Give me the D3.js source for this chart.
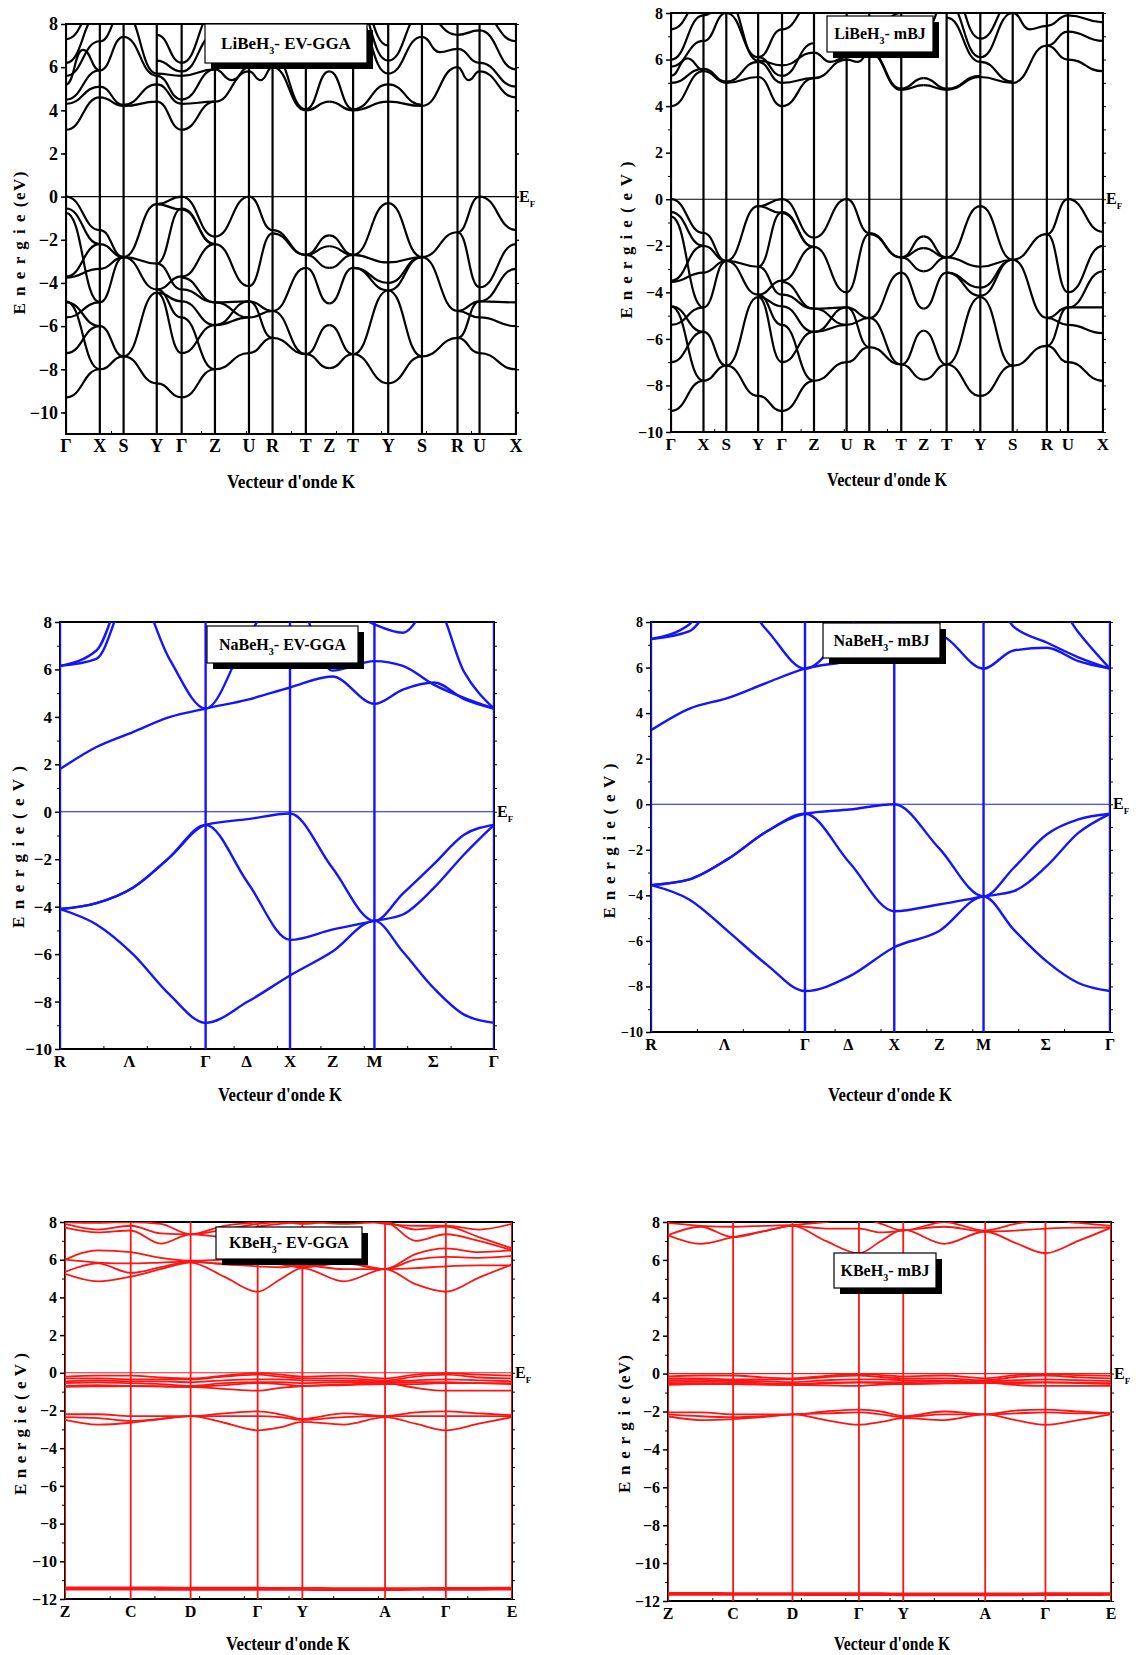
<!DOCTYPE html>
<html>
<head>
<meta charset="utf-8">
<script src="https://cdn.jsdelivr.net/npm/d3@7"></script>
<style>
  body { margin: 0; background: #fff; }
  svg { display: block; }
  text { font-family: "Liberation Serif", "Times New Roman", serif; font-weight: bold; }
</style>
</head>
<body>
<div id="chart"></div>
<script>
const width = 1136;
const height = 1655;

// ---------- LiBeH3 (orthorhombic path) ----------
const liLabels = ["Γ", "X", "S", "Y", "Γ", "Z", "U", "R", "T", "Z", "T", "Y", "S", "R", "U", "X"];
const liLabelPos = [0, 0.0752, 0.128, 0.2017, 0.257, 0.331, 0.4066, 0.459, 0.533, 0.585, 0.638, 0.716, 0.791, 0.870, 0.919, 1];
const liKLines = [0, 0.0752, 0.128, 0.2017, 0.257, 0.331, 0.4066, 0.459, 0.533, 0.638, 0.716, 0.791, 0.870, 0.919, 1];

// one entry per segment between consecutive labels; each line is [start, end] or [start, extremum at middle, end]
const liGgaValence = [
  [[0, -1.55], [-0.55, -2.2], [-0.75, -4.9], [-3.7, -2.2], [-3.75, -3.35], [-4.85, -8.0], [-5.6, -4.9], [-7.25, -6.0], [-9.3, -8.0], [-4.9, -6.0]],
  [[-1.55, -2.8], [-2.2, -2.8], [-3.35, -2.8], [-4.9, -2.8], [-6.0, -7.4], [-8.0, -7.4]],
  [[-2.8, -0.35], [-2.8, -3.1], [-2.8, -4.3], [-7.4, -4.45], [-7.4, -8.65]],
  [[-0.35, 0], [-0.35, -0.6], [-3.1, -0.55], [-3.1, -4.3], [-4.3, -3.7], [-4.45, -4.85], [-4.3, -5.6], [-4.45, -7.25], [-8.65, -9.3]],
  [[0, -1.85], [-0.55, -2.2], [-0.6, -2.2], [-3.7, -2.2], [-3.75, -4.9], [-4.3, -4.9], [-4.85, -5.95], [-5.6, -8.0], [-7.25, -5.95], [-9.3, -8.0]],
  [[-1.85, 0], [-2.2, -4.15], [-4.9, -4.85], [-4.9, -5.6], [-5.95, -5.6], [-5.95, -4.85], [-8.0, -7.25]],
  [[0, -1.55], [-4.15, -1.7], [-4.85, -5.3], [-5.6, -5.3], [-4.85, -6.55], [-7.25, -6.55]],
  [[-1.55, -2.7], [-1.7, -2.7], [-5.3, -3.3], [-5.3, -7.3], [-6.55, -7.3]],
  [[-2.7, -1.8], [-2.7, -2.3], [-2.7, -3.3], [-3.3, -4.95], [-7.3, -5.95], [-7.3, -7.95]],
  [[-1.8, -2.7], [-2.3, -2.7], [-3.3, -2.7], [-4.95, -3.3], [-5.95, -7.3], [-7.95, -7.3]],
  [[-2.7, -0.3], [-2.7, -3.05], [-3.3, -4.0], [-3.3, -4.35], [-7.3, -4.35], [-7.3, -8.65]],
  [[-0.3, -2.8], [-3.05, -2.8], [-4.0, -2.8], [-4.35, -2.8], [-4.35, -7.4], [-8.65, -7.4]],
  [[-2.8, -1.65], [-2.8, -5.3], [-7.4, -6.55]],
  [[-1.65, 0], [-1.65, -4.2], [-5.3, -4.85], [-5.3, -5.6], [-6.55, -4.85], [-6.55, -7.25]],
  [[0, -1.55], [-4.2, -2.2], [-4.85, -3.35], [-4.85, -4.9], [-5.6, -6.0], [-7.25, -8.0]]
];
const liGgaConduction = [
  [[3.1, 4.6], [4.3, 5.1], [4.5, 5.85], [5.2, 6.8, 5.85], [5.6, 7.2], [6.2, 8.5], [7.3, 9.0]],
  [[4.6, 4.2], [5.1, 4.25], [5.85, 7.4], [7.2, 8.6]],
  [[4.2, 4.4], [4.25, 5.2], [7.4, 5.6], [8.6, 5.7]],
  [[4.4, 3.1], [5.2, 4.3], [5.6, 4.5], [5.7, 5.6], [6.3, 5.8], [7.5, 6.2]],
  [[3.1, 4.4], [4.3, 4.4], [4.5, 5.9], [5.6, 5.9], [5.8, 7.5], [6.2, 8.6]],
  [[4.4, 5.8], [5.9, 5.4, 6.0], [5.9, 7.5]],
  [[5.8, 5.4, 6.0], [6.0, 6.6], [7.5, 8.5]],
  [[6.0, 4.0], [6.6, 4.05], [8.5, 6.5]],
  [[4.0, 4.4], [4.05, 5.8], [6.5, 7.5]],
  [[4.4, 4.0], [5.8, 4.05], [7.5, 8.6]],
  [[4.0, 4.4], [4.05, 5.2], [8.6, 5.7], [9.2, 6.3], [9.8, 7.0]],
  [[4.4, 4.2], [5.2, 4.25], [5.7, 7.4], [6.3, 8.5]],
  [[4.2, 6.0], [7.4, 6.7, 6.85], [8.5, 7.5]],
  [[6.0, 5.4, 5.8], [6.85, 6.2], [7.5, 7.7]],
  [[5.8, 4.6], [6.2, 5.1], [7.7, 5.9], [8.5, 7.2]]
];

const liMbjValence = [
  [[0, -1.45], [-0.55, -2.0], [-0.75, -4.65], [-3.5, -2.0], [-3.55, -3.15], [-4.6, -7.8], [-5.4, -4.65], [-7.0, -5.7], [-9.1, -7.8], [-4.6, -5.7]],
  [[-1.45, -2.65], [-2.0, -2.65], [-3.15, -2.65], [-4.65, -2.65], [-5.7, -7.15], [-7.8, -7.15]],
  [[-2.65, -0.3], [-2.65, -2.9], [-2.65, -4.1], [-7.15, -4.2], [-7.15, -8.45]],
  [[-0.3, 0], [-0.3, -0.6], [-2.9, -0.55], [-2.9, -4.1], [-4.1, -3.5], [-4.2, -4.6], [-4.1, -5.4], [-4.2, -7.0], [-8.45, -9.1]],
  [[0, -1.65], [-0.55, -2.05], [-0.6, -2.05], [-3.5, -2.05], [-3.55, -4.7], [-4.1, -4.7], [-4.6, -5.7], [-5.4, -7.8], [-7.0, -5.7], [-9.1, -7.8]],
  [[-1.65, 0], [-2.05, -4.0], [-4.7, -4.65], [-4.7, -5.4], [-5.7, -5.4], [-5.7, -4.65], [-7.8, -7.0]],
  [[0, -1.45], [-4.0, -1.5], [-4.65, -5.1], [-5.4, -5.1], [-4.65, -6.35], [-7.0, -6.35]],
  [[-1.45, -2.5], [-1.5, -2.5], [-5.1, -3.15], [-5.1, -7.1], [-6.35, -7.1]],
  [[-2.5, -1.6], [-2.5, -2.1], [-2.5, -3.1], [-3.15, -4.7], [-7.1, -5.65], [-7.1, -7.75]],
  [[-1.6, -2.5], [-2.1, -2.5], [-3.1, -2.5], [-4.7, -3.15], [-5.65, -7.1], [-7.75, -7.1]],
  [[-2.5, -0.3], [-2.5, -2.9], [-3.15, -3.8], [-3.15, -4.15], [-7.1, -4.2], [-7.1, -8.45]],
  [[-0.3, -2.6], [-2.9, -2.6], [-3.8, -2.6], [-4.15, -2.6], [-4.2, -7.15], [-8.45, -7.15]],
  [[-2.6, -1.5], [-2.6, -5.1], [-7.15, -6.3]],
  [[-1.5, 0], [-1.5, -4.0], [-5.1, -4.65], [-5.1, -5.4], [-6.3, -4.65], [-6.3, -7.0]],
  [[0, -1.4], [-4.0, -2.0], [-4.65, -3.1], [-4.65, -4.65], [-5.4, -5.75], [-7.0, -7.8]]
];
const liMbjConduction = [
  [[4.0, 5.5], [5.0, 5.6], [5.3, 6.05, 5.55], [5.7, 6.8], [6.0, 7.9], [7.3, 8.6]],
  [[5.5, 5.0], [5.6, 5.05], [6.8, 8.0], [7.9, 8.5]],
  [[5.0, 5.25], [5.05, 5.9], [8.0, 6.1], [8.6, 5.95]],
  [[5.25, 4.0], [5.9, 5.0], [6.1, 5.3], [5.95, 5.75], [6.1, 7.3]],
  [[4.0, 5.2], [5.0, 5.2], [5.3, 6.7], [5.75, 6.3], [7.3, 8.5]],
  [[5.2, 6.0], [6.3, 5.9, 6.1]],
  [[6.0, 5.9, 6.3], [6.1, 7.0]],
  [[6.3, 4.7], [6.35, 4.75], [7.0, 8.0]],
  [[4.7, 4.9], [4.75, 5.2]],
  [[4.9, 4.7], [5.2, 4.75], [7.2, 8.5]],
  [[4.7, 5.25], [4.75, 5.3], [7.8, 5.9], [8.5, 6.1], [9.5, 6.9]],
  [[5.25, 5.0], [5.9, 5.05], [6.1, 8.0], [6.9, 8.5]],
  [[5.0, 6.6], [8.0, 7.3, 7.45]],
  [[6.6, 6.0], [6.6, 7.2], [7.45, 7.9]],
  [[6.0, 5.5], [7.2, 6.8], [7.9, 7.6]]
];

// ---------- NaBeH3 (cubic path) ----------
const naLabels = ["R", "Λ", "Γ", "Δ", "X", "Z", "M", "Σ", "Γ"];
const naLabelPos = [0, 0.16, 0.3355, 0.43, 0.530, 0.628, 0.7245, 0.86, 1];
const naKLines = [0, 0.3355, 0.530, 0.7245, 1];
const naGrid = [0, 0.084, 0.168, 0.252, 0.3355, 0.433, 0.530, 0.627, 0.7245, 0.79, 0.862, 0.931, 1];

const naGgaBands = [
  [-4.1, -3.85, -3.2, -1.93, -0.55, -0.31, -0.07, -2.35, -4.6, -3.45, -2.2, -0.97, -0.55],
  [-4.1, -3.85, -3.2, -1.93, -0.55, -3.0, -5.4, -4.97, -4.6, -4.33, -3.2, -1.8, -0.55],
  [-4.1, -4.75, -6.0, -7.7, -8.9, -8.0, -6.9, -5.9, -4.6, -5.9, -7.45, -8.55, -8.9],
  [1.8, 2.73, 3.36, 3.99, 4.35, 4.73, 5.24, 5.7, 4.55, 5.15, 5.45, 4.75, 4.35],
  [6.15, 6.45, 9.5, 6.45, 4.35, 7.4, 9.5, 5.95, 6.35, 6.15, 5.35, 4.8, 4.35],
  [6.15, 6.8, 10, 10, 10, 10, 10, 9.0, 7.9, 7.55, 8.8, 5.9, 4.35]
];
const naMbjBands = [
  [-3.55, -3.3, -2.4, -1.2, -0.42, -0.23, 0, -1.92, -4.05, -2.8, -1.33, -0.67, -0.42],
  [-3.55, -3.3, -2.4, -1.2, -0.42, -2.58, -4.7, -4.4, -4.05, -3.82, -2.72, -1.26, -0.42],
  [-3.55, -4.19, -5.58, -7.04, -8.2, -7.55, -6.28, -5.58, -4.05, -5.5, -6.9, -7.85, -8.2],
  [3.25, 4.2, 4.67, 5.33, 5.95, 6.3, 6.9, 7.4, 5.95, 6.75, 6.87, 6.28, 5.95],
  [7.25, 7.6, 9.5, 7.65, 5.95, 7.8, 9.5, 9.5, 9.5, 7.8, 7.1, 6.45, 5.95],
  [7.25, 7.9, 10, 10, 10, 10, 10, 10, 10, 10, 9.5, 7.55, 5.95]
];

// ---------- KBeH3 (monoclinic path) ----------
const kLabels = ["Z", "C", "D", "Γ", "Y", "A", "Γ", "E"];
const kLabelPos = [0, 0.147, 0.281, 0.431, 0.531, 0.716, 0.852, 1];
const kKLines = [0, 0.147, 0.281, 0.431, 0.531, 0.716, 0.852, 1];
const kGrid = [0, 0.0735, 0.147, 0.214, 0.281, 0.356, 0.431, 0.481, 0.531, 0.6235, 0.716, 0.784, 0.852, 0.926, 1];

const kGgaBands = [
  [-0.2, -0.15, -0.15, -0.25, -0.3, -0.15, -0.02, -0.1, -0.2, -0.15, -0.3, -0.1, -0.02, -0.1, -0.15],
  [-0.3, -0.3, -0.35, -0.35, -0.35, -0.2, -0.1, -0.2, -0.3, -0.3, -0.4, -0.2, -0.1, -0.25, -0.3],
  [-0.45, -0.4, -0.45, -0.45, -0.5, -0.4, -0.35, -0.35, -0.4, -0.42, -0.45, -0.4, -0.35, -0.4, -0.45],
  [-0.55, -0.5, -0.55, -0.6, -0.7, -0.55, -0.5, -0.5, -0.55, -0.5, -0.5, -0.5, -0.5, -0.55, -0.6],
  [-0.7, -0.65, -0.7, -0.72, -0.75, -0.85, -0.95, -0.8, -0.7, -0.62, -0.55, -0.8, -0.95, -0.95, -0.95],
  [-0.75, -0.72, -0.7, -0.72, -0.75, -0.65, -0.55, -0.6, -0.7, -0.65, -0.6, -0.6, -0.55, -0.55, -0.55],
  [-2.2, -2.2, -2.3, -2.3, -2.3, -2.15, -2.05, -2.2, -2.45, -2.15, -2.3, -2.1, -2.05, -2.15, -2.25],
  [-2.35, -2.4, -2.55, -2.45, -2.3, -2.3, -2.3, -2.35, -2.5, -2.35, -2.3, -2.3, -2.3, -2.3, -2.3],
  [-2.5, -2.75, -2.65, -2.45, -2.3, -2.65, -3.05, -2.9, -2.6, -2.75, -2.35, -2.7, -3.05, -2.7, -2.35],
  [-11.38, -11.38, -11.39, -11.39, -11.4, -11.4, -11.4, -11.41, -11.41, -11.42, -11.42, -11.42, -11.41, -11.41, -11.4],
  [-11.45, -11.45, -11.46, -11.46, -11.46, -11.47, -11.47, -11.47, -11.48, -11.48, -11.48, -11.48, -11.47, -11.47, -11.46],
  [-11.5, -11.5, -11.5, -11.51, -11.51, -11.52, -11.52, -11.52, -11.52, -11.53, -11.53, -11.52, -11.52, -11.51, -11.5],
  [5.25, 4.85, 5.1, 5.5, 5.85, 5.1, 4.3, 4.95, 5.55, 4.85, 5.5, 4.7, 4.3, 5.05, 5.75],
  [5.35, 5.8, 5.3, 5.6, 5.9, 5.75, 5.65, 5.6, 5.7, 5.5, 5.5, 5.55, 5.65, 5.7, 5.7],
  [6.0, 5.85, 5.8, 5.85, 5.9, 5.8, 5.8, 5.75, 5.6, 5.8, 5.5, 6.0, 6.15, 6.1, 6.2],
  [6.0, 6.5, 6.4, 6.1, 5.95, 6.0, 6.05, 5.95, 5.65, 5.9, 5.5, 6.3, 6.6, 6.4, 6.5],
  [7.7, 7.45, 7.55, 6.85, 7.35, 7.2, 7.75, 7.9, 8.0, 7.9, 8.0, 7.0, 7.35, 7.0, 6.5],
  [7.9, 7.6, 7.8, 7.4, 7.35, 7.6, 7.9, 8.0, 7.9, 8.1, 8.0, 7.6, 7.75, 7.2, 6.6],
  [8.0, 7.95, 8.0, 7.9, 7.35, 7.8, 8.0, 8.2, 8.2, 8.2, 7.9, 7.8, 7.8, 7.6, 7.9]
];
const kMbjBands = [
  [-0.15, -0.1, -0.1, -0.2, -0.25, -0.12, -0.02, -0.08, -0.15, -0.1, -0.25, -0.08, -0.02, -0.08, -0.12],
  [-0.25, -0.25, -0.3, -0.3, -0.3, -0.18, -0.1, -0.18, -0.25, -0.25, -0.35, -0.18, -0.1, -0.2, -0.25],
  [-0.35, -0.33, -0.38, -0.4, -0.45, -0.35, -0.3, -0.3, -0.35, -0.37, -0.4, -0.35, -0.3, -0.35, -0.4],
  [-0.45, -0.42, -0.45, -0.5, -0.55, -0.48, -0.45, -0.45, -0.45, -0.42, -0.45, -0.45, -0.45, -0.48, -0.5],
  [-0.55, -0.5, -0.55, -0.58, -0.6, -0.62, -0.65, -0.58, -0.55, -0.5, -0.48, -0.6, -0.65, -0.65, -0.65],
  [-0.6, -0.55, -0.55, -0.57, -0.6, -0.52, -0.48, -0.5, -0.55, -0.52, -0.5, -0.5, -0.48, -0.5, -0.55],
  [-2.05, -2.05, -2.15, -2.15, -2.15, -2.0, -1.9, -2.0, -2.25, -2.0, -2.15, -1.95, -1.9, -2.0, -2.1],
  [-2.15, -2.25, -2.3, -2.25, -2.15, -2.1, -2.05, -2.15, -2.3, -2.15, -2.15, -2.1, -2.05, -2.1, -2.1],
  [-2.25, -2.45, -2.4, -2.3, -2.15, -2.45, -2.7, -2.55, -2.35, -2.45, -2.15, -2.45, -2.7, -2.45, -2.15],
  [-11.57, -11.57, -11.58, -11.58, -11.58, -11.59, -11.59, -11.59, -11.6, -11.6, -11.6, -11.6, -11.59, -11.59, -11.58],
  [-11.62, -11.62, -11.63, -11.63, -11.63, -11.64, -11.64, -11.64, -11.65, -11.65, -11.65, -11.65, -11.64, -11.64, -11.63],
  [-11.67, -11.67, -11.68, -11.68, -11.68, -11.69, -11.69, -11.69, -11.7, -11.7, -11.7, -11.7, -11.69, -11.69, -11.68],
  [7.3, 6.85, 7.2, 7.5, 7.8, 7.0, 6.35, 7.0, 7.6, 6.85, 7.5, 6.9, 6.35, 7.0, 7.7],
  [7.3, 7.75, 7.2, 7.5, 7.8, 7.65, 7.65, 7.45, 7.55, 7.75, 7.5, 7.55, 7.65, 7.7, 7.7],
  [7.95, 7.8, 7.75, 7.8, 7.85, 8.0, 8.2, 7.9, 7.55, 8.0, 7.55, 7.9, 8.1, 7.95, 7.8]
];

const ticks18 = [8, 6, 4, 2, 0, -2, -4, -6, -8, -10];
const ticks20 = [8, 6, 4, 2, 0, -2, -4, -6, -8, -10, -12];

const svg = d3.select("#chart")
  .append("svg")
  .attr("width", width)
  .attr("height", height);

const bumpLine = d3.line().curve(d3.curveBumpX);
const smoothLine = d3.line().curve(d3.curveMonotoneX);

function drawPanel(p) {
  const x = d3.scaleLinear().domain([0, 1]).range([p.x0, p.x1]);
  const y = d3.scaleLinear().domain(p.yDomain).range([p.yBot, p.yTop]);
  const g = svg.append("g");

  g.append("clipPath").attr("id", "clip" + p.id)
    .append("rect")
    .attr("x", p.x0).attr("y", p.yTop)
    .attr("width", p.x1 - p.x0).attr("height", p.yBot - p.yTop);

  // frame
  g.append("rect")
    .attr("x", p.x0).attr("y", p.yTop)
    .attr("width", p.x1 - p.x0).attr("height", p.yBot - p.yTop)
    .attr("fill", "none").attr("stroke", "#000").attr("stroke-width", 2);

  const plot = g.append("g").attr("clip-path", `url(#clip${p.id})`);

  plot.selectAll("line.kline")
    .data(p.kLines)
    .join("line")
    .attr("x1", d => x(d)).attr("x2", d => x(d))
    .attr("y1", p.yTop).attr("y2", p.yBot)
    .attr("stroke", p.color).attr("stroke-width", p.lw);

  plot.append("line")
    .attr("x1", p.x0).attr("x2", p.x1)
    .attr("y1", y(0)).attr("y2", y(0))
    .attr("stroke", p.color).attr("stroke-width", 1.1);

  let paths = [];
  if (p.segments) {
    p.segments.forEach(segs => {
      segs.forEach((seg, i) => {
        const a = p.labelPos[i], b = p.labelPos[i + 1];
        seg.forEach(l => {
          const pts = l.length === 2
            ? [[a, l[0]], [b, l[1]]]
            : [[a, l[0]], [(a + b) / 2, l[1]], [b, l[2]]];
          paths.push(bumpLine(pts.map(d => [x(d[0]), y(d[1])])));
        });
      });
    });
  } else {
    p.bands.forEach(band => {
      paths.push(smoothLine(band.map((e, i) => [x(p.grid[i]), y(e)])));
    });
  }
  plot.selectAll("path.band")
    .data(paths)
    .join("path")
    .attr("d", d => d)
    .attr("fill", "none")
    .attr("stroke", p.color)
    .attr("stroke-width", p.lw)
    .attr("stroke-linejoin", "round");

  // y axis, major and minor ticks
  const minor = d3.range(p.yDomain[0] + 1, p.yDomain[1], 2);
  const left = g.append("g")
    .attr("transform", `translate(${p.x0},0)`)
    .call(d3.axisLeft(y).tickValues(p.ticks).tickSize(5).tickPadding(3).tickFormat(d3.format("d")));
  left.select(".domain").remove();
  left.selectAll("line").attr("stroke-width", 1.5);
  left.selectAll("text")
    .style("font-family", "'Liberation Serif', serif")
    .style("font-weight", "bold")
    .style("font-size", p.tickFont + "px")
    .attr("fill", "#000");
  g.append("g")
    .attr("transform", `translate(${p.x0},0)`)
    .call(d3.axisLeft(y).tickValues(minor).tickSize(3).tickFormat(""))
    .select(".domain").remove();
  const right = g.append("g")
    .attr("transform", `translate(${p.x1},0)`)
    .call(d3.axisRight(y).tickValues(p.ticks.concat(minor)).tickSize(3).tickFormat(""));
  right.select(".domain").remove();

  // bottom minor ticks
  g.append("g")
    .attr("transform", `translate(0,${p.yBot})`)
    .call(d3.axisTop(x).tickValues(d3.range(0.1, 1, 0.1)).tickSize(3).tickFormat(""))
    .select(".domain").remove();

  // k-point labels
  g.selectAll("text.klabel")
    .data(p.labels)
    .join("text")
    .attr("x", (d, i) => x(p.labelPos[i]))
    .attr("y", p.yBot + 18)
    .attr("text-anchor", "middle")
    .style("font-size", p.labelFont + "px")
    .text(d => d);

  // E_F label
  const ef = g.append("text")
    .attr("x", p.x1 + 3)
    .attr("y", y(0) + 5)
    .style("font-size", "16px");
  ef.append("tspan").text("E");
  ef.append("tspan").attr("dy", 5).style("font-size", "9px").text("F");

  // axis titles
  g.append("text")
    .attr("transform", `translate(${p.yTitleX},${p.yTitleY}) rotate(-90)`)
    .attr("text-anchor", "middle")
    .attr("textLength", p.yTitleLen)
    .attr("lengthAdjust", "spacing")
    .style("font-size", "17px")
    .text(p.yTitle);

  g.append("text")
    .attr("x", p.xTitleX)
    .attr("y", p.xTitleY)
    .attr("text-anchor", "middle")
    .attr("textLength", p.xTitleLen)
    .attr("lengthAdjust", "spacingAndGlyphs")
    .style("font-size", "19px")
    .text("Vecteur d'onde K");

  // compound box with shadow
  const bx = p.box;
  g.append("rect")
    .attr("x", bx[0] + 6).attr("y", bx[1] + 6)
    .attr("width", bx[2]).attr("height", bx[3])
    .attr("fill", "#000");
  g.append("rect")
    .attr("x", bx[0]).attr("y", bx[1])
    .attr("width", bx[2]).attr("height", bx[3])
    .attr("fill", "#fff").attr("stroke", "#000").attr("stroke-width", 1.2);
  const t = g.append("text")
    .attr("x", bx[0] + bx[2] / 2)
    .attr("y", bx[1] + bx[3] / 2 + 5)
    .attr("text-anchor", "middle")
    .style("font-size", p.boxFont + "px");
  t.append("tspan").text(p.compound);
  t.append("tspan").attr("dy", 5).style("font-size", "10px").text("3");
  t.append("tspan").attr("dy", -5).text("- " + p.method);
}

drawPanel({
  id: 1, x0: 66, x1: 516, yTop: 24, yBot: 434, yDomain: [-11, 8], ticks: ticks18,
  color: "#000", lw: 2.2, segments: [liGgaValence, liGgaConduction],
  labels: liLabels, labelPos: liLabelPos, kLines: liKLines,
  tickFont: 18, labelFont: 18,
  yTitle: "E n e r g i e (eV)", yTitleX: 25, yTitleY: 243, yTitleLen: 143,
  xTitleX: 291, xTitleY: 488, xTitleLen: 128,
  box: [205, 24, 162, 39], boxFont: 17, compound: "LiBeH", method: "EV-GGA"
});

drawPanel({
  id: 2, x0: 671, x1: 1103, yTop: 13, yBot: 432, yDomain: [-10, 8], ticks: ticks18,
  color: "#000", lw: 2.2, segments: [liMbjValence, liMbjConduction],
  labels: liLabels, labelPos: liLabelPos, kLines: liKLines,
  tickFont: 16, labelFont: 17,
  yTitle: "E n e r g i e ( e V )", yTitleX: 632, yTitleY: 240, yTitleLen: 157,
  xTitleX: 887, xTitleY: 486, xTitleLen: 120,
  box: [827, 16, 106, 36], boxFont: 16, compound: "LiBeH", method: "mBJ"
});

drawPanel({
  id: 3, x0: 60, x1: 494, yTop: 622, yBot: 1049, yDomain: [-10, 8], ticks: ticks18,
  color: "#1414ff", lw: 2.4, bands: naGgaBands, grid: naGrid,
  labels: naLabels, labelPos: naLabelPos, kLines: naKLines,
  tickFont: 17, labelFont: 17,
  yTitle: "E n e r g i e ( e V )", yTitleX: 24, yTitleY: 847, yTitleLen: 162,
  xTitleX: 280, xTitleY: 1101, xTitleLen: 124,
  box: [207, 626, 151, 37], boxFont: 16, compound: "NaBeH", method: "EV-GGA"
});

drawPanel({
  id: 4, x0: 651, x1: 1110, yTop: 622, yBot: 1032, yDomain: [-10, 8], ticks: ticks18,
  color: "#1414ff", lw: 2.4, bands: naMbjBands, grid: naGrid,
  labels: naLabels, labelPos: naLabelPos, kLines: naKLines,
  tickFont: 14, labelFont: 16,
  yTitle: "E n e r g i e ( e V )", yTitleX: 615, yTitleY: 841, yTitleLen: 155,
  xTitleX: 890, xTitleY: 1101, xTitleLen: 124,
  box: [823, 623, 117, 35], boxFont: 16, compound: "NaBeH", method: "mBJ"
});

drawPanel({
  id: 5, x0: 65, x1: 512, yTop: 1222, yBot: 1599, yDomain: [-12, 8], ticks: ticks20,
  color: "#ff1414", lw: 1.8, bands: kGgaBands, grid: kGrid,
  labels: kLabels, labelPos: kLabelPos, kLines: kKLines,
  tickFont: 16, labelFont: 16,
  yTitle: "E n e r g i e ( e V )", yTitleX: 26, yTitleY: 1424, yTitleLen: 142,
  xTitleX: 288, xTitleY: 1650, xTitleLen: 124,
  box: [216, 1227, 146, 32], boxFont: 16, compound: "KBeH", method: "EV-GGA"
});

drawPanel({
  id: 6, x0: 668, x1: 1111, yTop: 1222, yBot: 1601, yDomain: [-12, 8], ticks: ticks20,
  color: "#ff1414", lw: 1.8, bands: kMbjBands, grid: kGrid,
  labels: kLabels, labelPos: kLabelPos, kLines: kKLines,
  tickFont: 16, labelFont: 16,
  yTitle: "E n e r g i e (eV)", yTitleX: 630, yTitleY: 1424, yTitleLen: 138,
  xTitleX: 892, xTitleY: 1650, xTitleLen: 116,
  box: [834, 1253, 102, 35], boxFont: 16, compound: "KBeH", method: "mBJ"
});
</script>
</body>
</html>
